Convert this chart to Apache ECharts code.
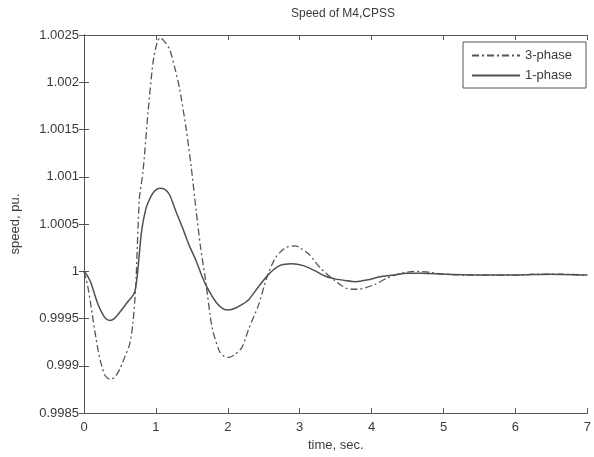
<!DOCTYPE html>
<html>
<head>
<meta charset="utf-8">
<script src="https://cdn.jsdelivr.net/npm/echarts@6/dist/echarts.min.js"></script>
<style>
html,body{margin:0;padding:0;background:#fff;}
#chart{width:594px;height:457px;}
</style>
</head>
<body>
<div id="chart"></div>
<script>
var titleText = 'Speed of M4,CPSS';
var xName = 'time, sec.';
var yName = 'speed, pu.';
var seriesNames = ['3-phase', '1-phase'];

var timeThree = [0, 0.05, 0.1, 0.15, 0.2, 0.25, 0.3, 0.36, 0.43, 0.5, 0.57, 0.635, 0.68, 0.72, 0.77, 0.82, 0.89, 0.96, 1.02, 1.06, 1.12, 1.19, 1.26, 1.33, 1.42, 1.49, 1.56, 1.62, 1.69, 1.78, 1.88, 1.95, 2.02, 2.1, 2.2, 2.29, 2.43, 2.54, 2.66, 2.8, 2.94, 3.02, 3.13, 3.28, 3.49, 3.65, 3.81, 4.04, 4.22, 4.41, 4.59, 4.8, 5.0, 5.3, 5.6, 6.0, 6.3, 6.6, 7.0];
var speedThree = [1.0000, 0.99985, 0.99962, 0.99937, 0.99915, 0.99899, 0.99889, 0.99886, 0.99888, 0.99897, 0.99910, 0.99923, 0.99945, 0.99985, 1.00077, 1.00105, 1.00168, 1.00221, 1.00243, 1.00247, 1.00243, 1.00235, 1.00216, 1.00193, 1.00151, 1.00111, 1.00064, 1.00026, 0.99991, 0.99941, 0.99916, 0.99910, 0.99909, 0.99912, 0.99920, 0.99939, 0.99965, 0.99993, 1.00014, 1.00025, 1.00027, 1.00024, 1.00018, 1.00004, 0.99990, 0.99982, 0.99981, 0.99986, 0.99993, 0.99998, 1.00000, 0.99999, 0.99997, 0.99996, 0.99996, 0.99996, 0.99997, 0.99997, 0.99996];

var timeOne = [0, 0.05, 0.1, 0.15, 0.2, 0.25, 0.3, 0.36, 0.42, 0.5, 0.6, 0.7, 0.74, 0.8, 0.86, 0.91, 0.97, 1.05, 1.12, 1.19, 1.28, 1.37, 1.46, 1.56, 1.65, 1.74, 1.84, 1.92, 1.99, 2.1, 2.2, 2.29, 2.43, 2.57, 2.72, 2.89, 3.05, 3.2, 3.35, 3.49, 3.65, 3.77, 3.95, 4.1, 4.3, 4.5, 4.7, 5.0, 5.5, 6.0, 6.5, 7.0];
var speedOne = [1.0000, 0.99995, 0.99987, 0.99975, 0.99964, 0.99956, 0.99950, 0.99948, 0.99950, 0.99957, 0.99967, 0.99977, 0.99995, 1.00042, 1.00066, 1.00076, 1.00084, 1.00088, 1.00087, 1.00081, 1.00063, 1.00046, 1.00028, 1.00011, 0.99993, 0.99979, 0.99967, 0.99961, 0.99959, 0.99961, 0.99965, 0.99970, 0.99984, 0.99997, 1.00006, 1.00008, 1.00006, 1.00001, 0.99995, 0.99992, 0.99990, 0.99989, 0.99991, 0.99994, 0.99996, 0.99998, 0.99998, 0.99997, 0.99996, 0.99996, 0.99997, 0.99996];

var xTicks = ['0', '1', '2', '3', '4', '5', '6', '7'];
var yTicks = ['0.9985', '0.999', '0.9995', '1', '1.0005', '1.001', '1.0015', '1.002', '1.0025'];

function pairs(ts, vs) { return ts.map(function (t, i) { return [t, vs[i]]; }); }

var FONT = 'Liberation Sans';
var TXT = '#3a3a3a';
var AX = '#555';

function yLabel(v) {
  var s = Number(v.toFixed(4)).toString();
  return yTicks.indexOf(s) >= 0 ? s : '';
}
function xLabel(v) {
  var s = String(Math.round(v));
  return xTicks.indexOf(s) >= 0 ? s : '';
}

var chart = echarts.init(document.getElementById('chart'), null, {renderer: 'canvas'});
chart.setOption({
  animation: false,
  backgroundColor: '#fff',
  title: {
    text: titleText, left: 338, top: 3, textAlign: 'center',
    textStyle: {fontFamily: FONT, fontSize: 12, fontWeight: 'normal', color: TXT}
  },
  legend: {
    right: 8, top: 42, orient: 'vertical',
    backgroundColor: '#fff', borderColor: AX, borderWidth: 1, borderRadius: 0,
    padding: [7, 14, 6, 8], itemGap: 7, itemWidth: 48, itemHeight: 14,
    textStyle: {fontFamily: FONT, fontSize: 13, color: TXT},
    itemStyle: {color: 'transparent', borderWidth: 0, opacity: 0},
    data: seriesNames
  },
  grid: {left: 84, right: 3, top: 35, bottom: 38},
  xAxis: [{
    type: 'value', min: 0, max: 7, interval: 1,
    name: xName, nameLocation: 'middle', nameGap: 24,
    nameTextStyle: {fontFamily: FONT, fontSize: 13, color: TXT},
    axisLine: {show: true, lineStyle: {color: AX, width: 1}},
    axisTick: {inside: true, length: 5, lineStyle: {color: AX}},
    axisLabel: {fontFamily: FONT, fontSize: 13, color: TXT, margin: 8, formatter: xLabel},
    splitLine: {show: false}
  }, {
    type: 'value', min: 0, max: 7, interval: 1, position: 'top',
    axisLine: {show: true, lineStyle: {color: AX, width: 1}},
    axisTick: {inside: true, length: 5, lineStyle: {color: AX}},
    axisLabel: {show: false}, splitLine: {show: false}
  }],
  yAxis: [{
    type: 'value', min: 0.9985, max: 1.0025, interval: 0.0005,
    name: yName, nameLocation: 'middle', nameGap: 62,
    nameTextStyle: {fontFamily: FONT, fontSize: 13, color: TXT},
    axisLine: {show: true, lineStyle: {color: AX, width: 1}},
    axisTick: {inside: true, length: 5, lineStyle: {color: AX}},
    axisLabel: {fontFamily: FONT, fontSize: 13, color: TXT, margin: 5, formatter: yLabel},
    splitLine: {show: false}
  }, {
    type: 'value', min: 0.9985, max: 1.0025, interval: 0.0005, position: 'right',
    axisLine: {show: true, lineStyle: {color: AX, width: 1}},
    axisTick: {inside: true, length: 5, lineStyle: {color: AX}},
    axisLabel: {show: false}, splitLine: {show: false}
  }],
  series: [{
    name: seriesNames[0], type: 'line', xAxisIndex: 0, yAxisIndex: 0,
    data: pairs(timeThree, speedThree), smooth: 0.25, symbol: 'none',
    lineStyle: {color: '#555', width: 1.3, type: [7, 3, 2, 3]},
    itemStyle: {color: '#555'}
  }, {
    name: seriesNames[1], type: 'line', xAxisIndex: 0, yAxisIndex: 0,
    data: pairs(timeOne, speedOne), smooth: 0.25, symbol: 'none',
    lineStyle: {color: '#505050', width: 1.5, type: 'solid'},
    itemStyle: {color: '#555'}
  }]
});
</script>
</body>
</html>
